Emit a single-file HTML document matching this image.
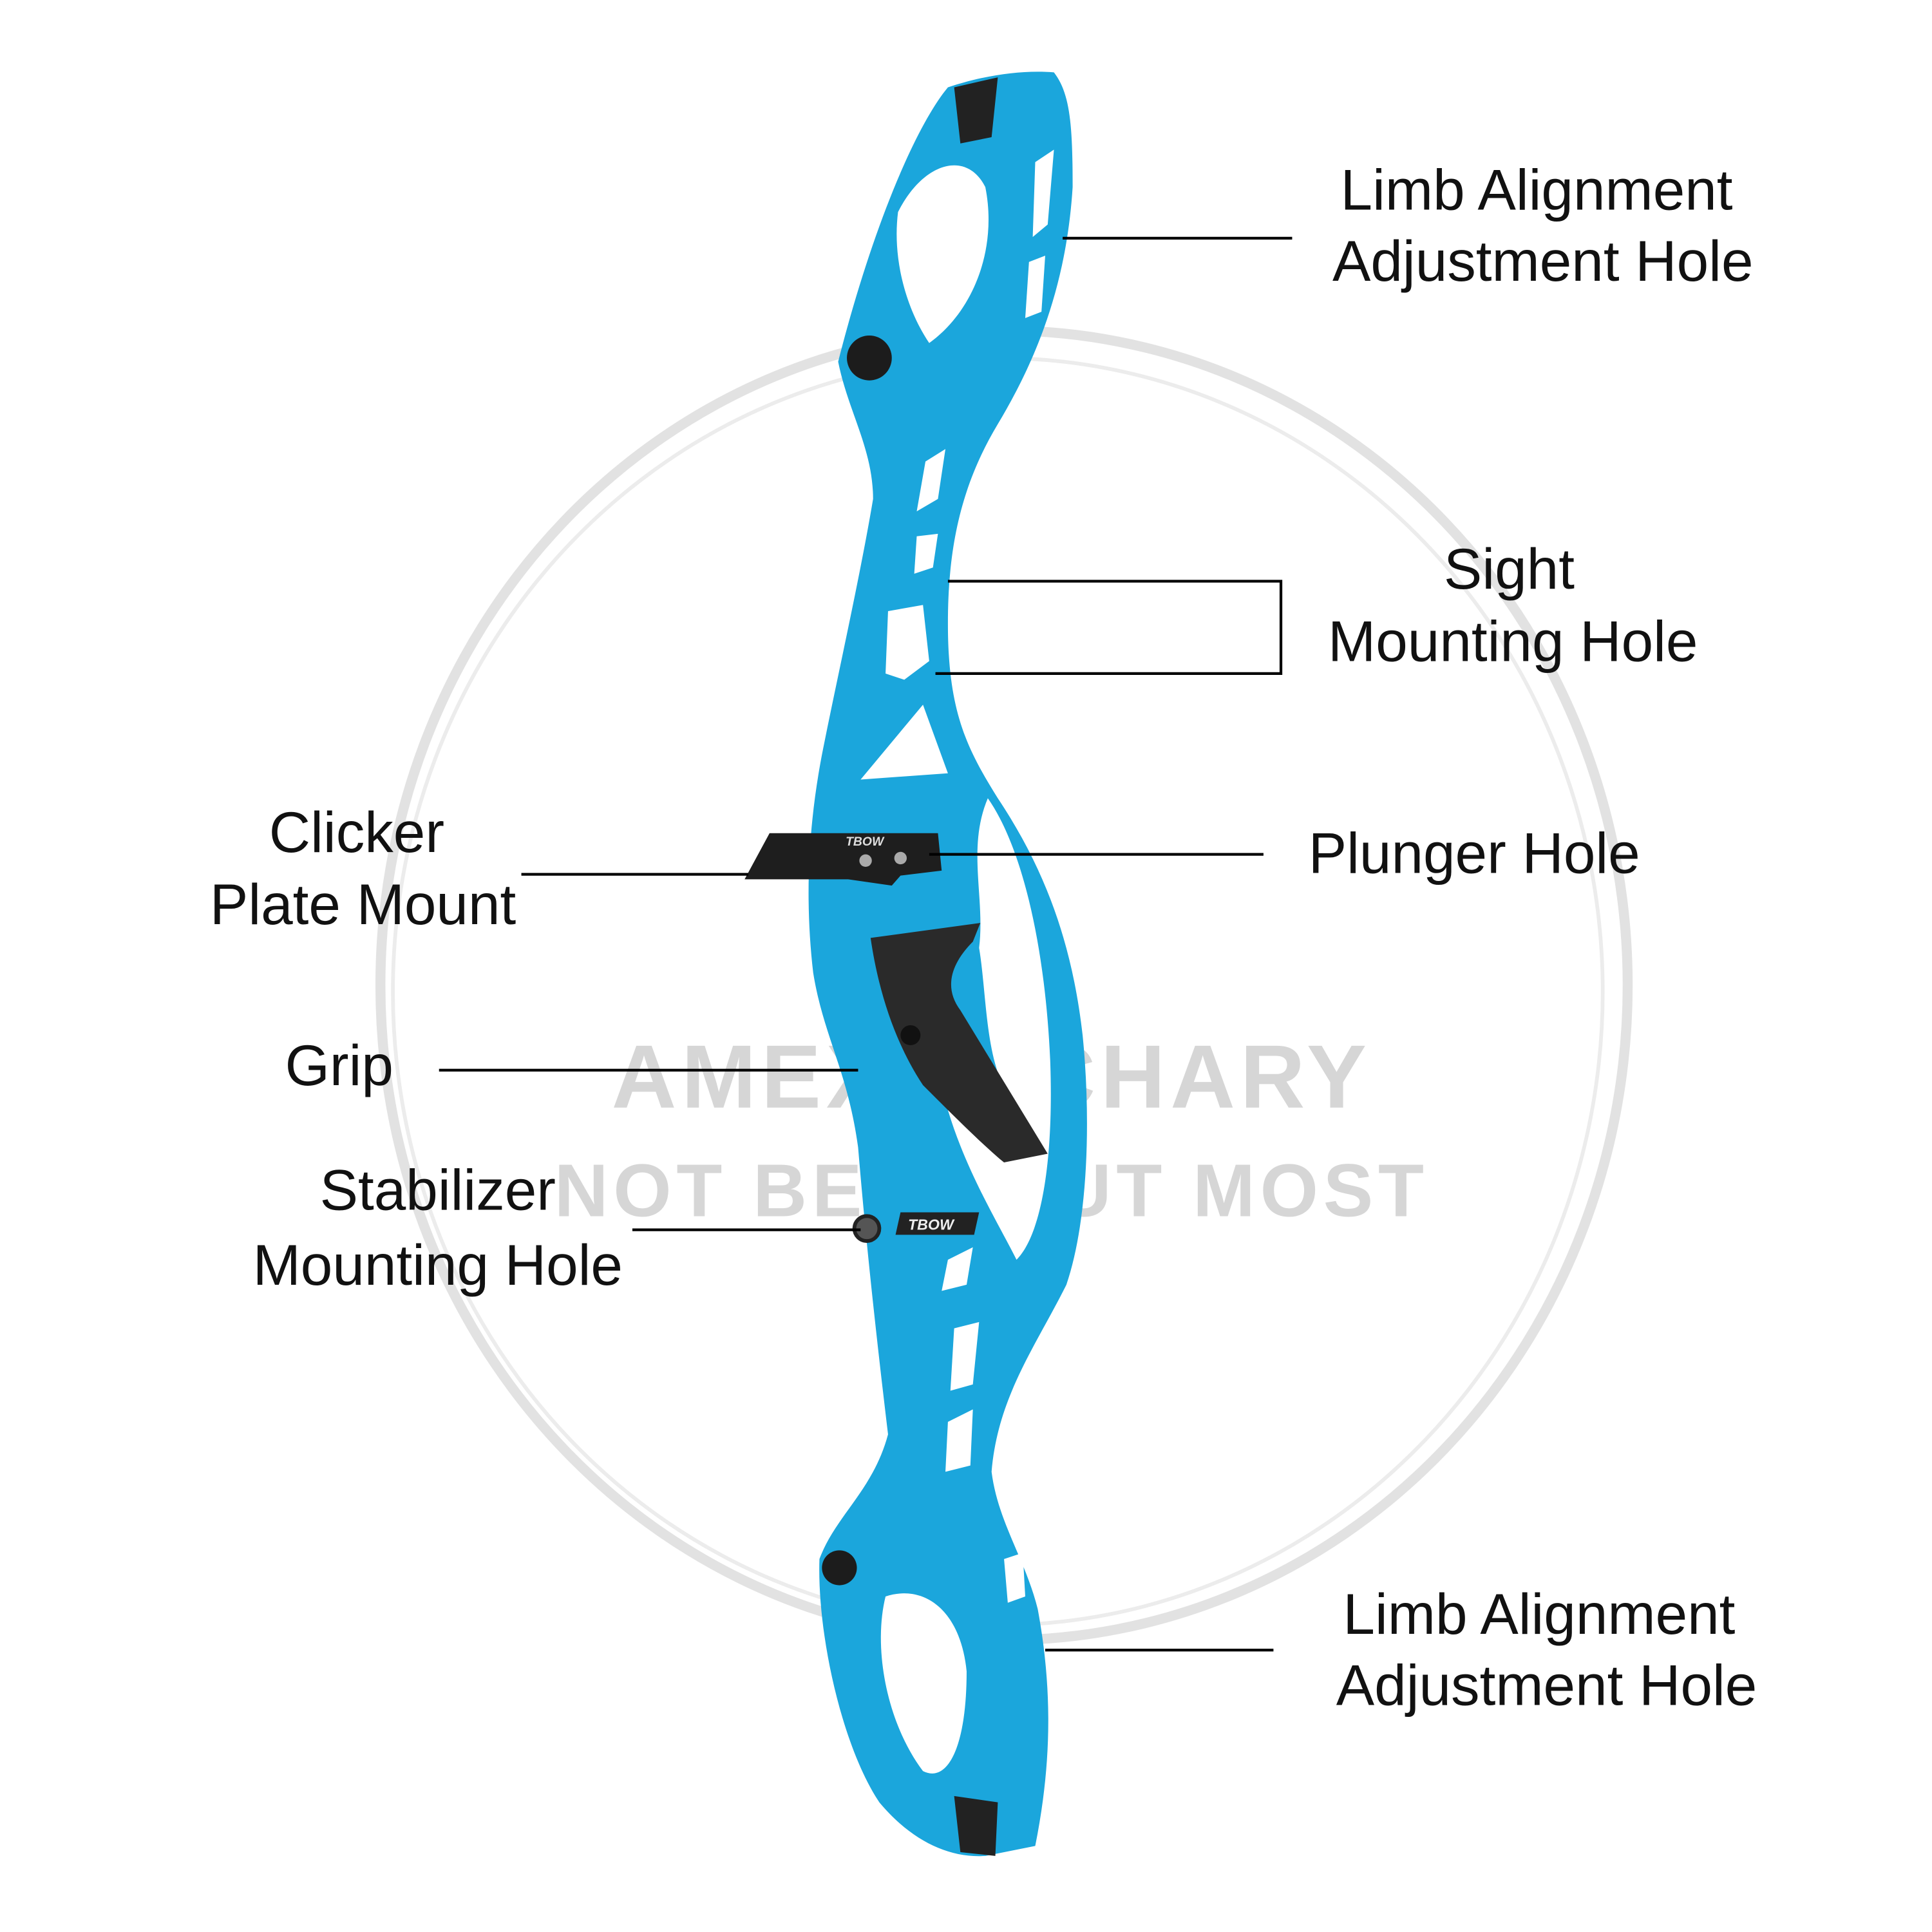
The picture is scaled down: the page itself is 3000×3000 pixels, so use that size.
<!DOCTYPE html>
<html><head><meta charset="utf-8"><style>
html,body{margin:0;padding:0;background:#fff;}
svg{display:block;}
text{font-family:"Liberation Sans",sans-serif;}
</style></head><body>
<svg width="3000" height="3000" viewBox="0 0 1549 1549" xmlns="http://www.w3.org/2000/svg">
<rect width="1549" height="1549" fill="#fff"/>
<!-- watermark -->
<ellipse cx="805" cy="790" rx="500" ry="525" fill="none" stroke="#e2e2e2" stroke-width="8"/>
<ellipse cx="800" cy="795" rx="485" ry="508" fill="none" stroke="#ececec" stroke-width="3"/>
<text x="795" y="888" font-size="72" font-weight="bold" fill="#d6d6d6" text-anchor="middle" letter-spacing="4">AMEXARCHARY</text>
<text x="795" y="975" font-size="60" font-weight="bold" fill="#d6d6d6" text-anchor="middle" letter-spacing="4">NOT BEST BUT MOST</text>
<circle cx="708" cy="610" r="14" fill="#ddd"/>
<!-- bow riser -->
<path fill="#1ba6dc" d="M760,70 C735,100 700,180 672,290 C680,330 700,360 700,400 C690,460 672,540 660,600 C648,660 645,720 652,780 C660,830 680,860 688,920 C693,980 700,1050 712,1150 C700,1195 670,1215 657,1250 C655,1310 675,1400 705,1445 C730,1475 760,1490 790,1488 L830,1480 C842,1420 845,1360 832,1290 C822,1250 800,1220 795,1180 C800,1120 830,1080 855,1030 C872,980 875,900 868,830 C860,760 840,700 800,640 C775,600 760,570 760,500 C760,440 770,390 800,340 C830,290 855,230 860,150 C860,100 858,75 845,58 C820,56 790,60 760,70 Z"/>
<!-- window -->
<path fill="#fff" d="M792,640 C820,680 838,760 842,850 C845,930 835,990 815,1010 C800,980 775,940 760,890 L800,860 C790,830 790,790 785,760 C790,720 775,680 792,640 Z"/>
<!-- holes -->
<path fill="#fff" d="M720,170 C740,130 775,120 790,150 C800,200 780,250 745,275 C728,250 715,210 720,170 Z"/>
<path fill="#fff" d="M742,370 L758,360 L752,400 L735,410 Z"/>
<path fill="#fff" d="M735,430 L752,428 L748,455 L733,460 Z"/>
<path fill="#fff" d="M712,490 L740,485 L745,530 L725,545 L710,540 Z"/>
<path fill="#fff" d="M690,625 L740,565 L760,620 Z"/>
<path fill="#fff" d="M760,1010 L780,1000 L775,1030 L755,1035 Z"/>
<path fill="#fff" d="M765,1065 L785,1060 L780,1110 L762,1115 Z"/>
<path fill="#fff" d="M760,1140 L780,1130 L778,1175 L758,1180 Z"/>
<path fill="#fff" d="M710,1280 C740,1270 770,1290 775,1340 C775,1400 760,1430 740,1420 C710,1380 700,1320 710,1280 Z"/>
<path fill="#fff" d="M805,1250 L820,1245 L822,1280 L808,1285 Z"/>
<path fill="#fff" d="M830,130 L845,120 L840,180 L828,190 Z"/>
<path fill="#fff" d="M825,210 L838,205 L835,250 L822,255 Z"/>
<!-- dark tips -->
<path fill="#222" d="M765,70 L800,62 L795,110 L770,115 Z"/>
<path fill="#222" d="M765,1440 L800,1445 L798,1488 L770,1485 Z"/>
<circle cx="697" cy="287" r="18" fill="#1c1c1c"/>
<circle cx="673" cy="1257" r="14" fill="#1c1c1c"/>
<circle cx="695" cy="985" r="10" fill="#555" stroke="#222" stroke-width="3"/>
<polygon points="722,972 785,972 781,990 718,990" fill="#222"/>
<text x="728" y="986" font-size="12" font-weight="bold" font-style="italic" fill="#eee">TBOW</text>
<!-- clicker plate -->
<path fill="#1e1e1e" d="M597,705 L617,668 L752,668 L755,698 L722,702 L715,710 L680,705 Z"/>
<text x="678" y="678" font-size="10" font-weight="bold" fill="#ddd" font-style="italic">TBOW</text>
<circle cx="694" cy="690" r="5" fill="#aaa"/><circle cx="722" cy="688" r="5" fill="#aaa"/>
<!-- grip -->
<path fill="#2a2a2a" d="M698,752 L786,740 L780,755 C765,770 755,790 770,810 L840,925 L805,932 C790,920 760,890 740,870 C720,840 705,800 698,752 Z"/>
<circle cx="730" cy="830" r="8" fill="#111"/>
<!-- connectors -->
<g stroke="#000" stroke-width="2.2" fill="none">
<line x1="852" y1="191" x2="1036" y2="191"/>
<polyline points="760,466 1027,466 1027,540 750,540"/>
<line x1="745" y1="685" x2="1013" y2="685"/>
<line x1="418" y1="701" x2="600" y2="701"/>
<line x1="352" y1="858" x2="688" y2="858"/>
<line x1="507" y1="986" x2="690" y2="986"/>
<line x1="838" y1="1323" x2="1021" y2="1323"/>
</g>
<!-- labels -->
<g font-size="46" fill="#111" text-anchor="middle">
<text x="1232" y="168">Limb Alignment</text>
<text x="1237" y="225">Adjustment Hole</text>
<text x="1210" y="472">Sight</text>
<text x="1213" y="530">Mounting Hole</text>
<text x="1182" y="700">Plunger Hole</text>
<text x="286" y="683">Clicker</text>
<text x="291" y="741">Plate Mount</text>
<text x="272" y="870">Grip</text>
<text x="351" y="970">Stabilizer</text>
<text x="351" y="1030">Mounting Hole</text>
<text x="1234" y="1310">Limb Alignment</text>
<text x="1240" y="1367">Adjustment Hole</text>
</g>
</svg>
</body></html>
